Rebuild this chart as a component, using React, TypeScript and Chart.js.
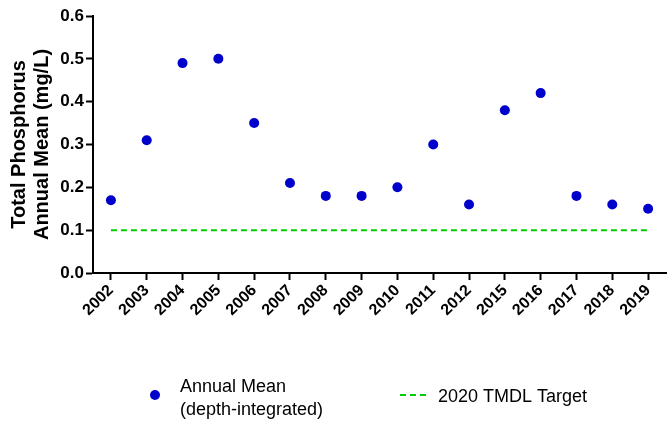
import React, { useEffect, useRef } from "react";
import { Chart, registerables } from "chart.js";

Chart.register(...registerables);

const years = ["2002", "2003", "2004", "2005", "2006", "2007", "2008", "2009", "2010", "2011", "2012", "2015", "2016", "2017", "2018", "2019"];
const annualMean = [0.17, 0.31, 0.49, 0.5, 0.35, 0.21, 0.18, 0.18, 0.2, 0.3, 0.16, 0.38, 0.42, 0.18, 0.16, 0.15];
const tmdlTarget = 0.1;
const yTitle = ["Total Phosphorus", "Annual Mean (mg/L)"];
const legendPoint = ["Annual Mean", "(depth-integrated)"];
const legendLine = "2020 TMDL Target";

const FONT = "'Liberation Sans', Arial, sans-serif";
const BLUE = "#0000cc";
const GREEN = "#00cc00";

const legendPlugin = {
  id: "customLegend",
  afterDraw(chart: any) {
    const ctx = chart.ctx;
    ctx.save();
    ctx.fillStyle = BLUE;
    ctx.beginPath();
    ctx.arc(155, 395, 5, 0, Math.PI * 2);
    ctx.fill();
    ctx.fillStyle = "#000";
    ctx.font = `18px ${FONT}`;
    ctx.textBaseline = "alphabetic";
    ctx.textAlign = "left";
    ctx.fillText(legendPoint[0], 180, 392);
    ctx.fillText(legendPoint[1], 180, 415);
    ctx.strokeStyle = GREEN;
    ctx.lineWidth = 2;
    ctx.setLineDash([6, 4]);
    ctx.beginPath();
    ctx.moveTo(400, 395);
    ctx.lineTo(426, 395);
    ctx.stroke();
    ctx.setLineDash([]);
    ctx.fillText(legendLine, 438, 402);
    ctx.restore();
  },
};

export default function App() {
  const ref = useRef<HTMLCanvasElement>(null);
  useEffect(() => {
    const chart = new Chart(ref.current!, {
      type: "line",
      data: {
        labels: years,
        datasets: [
          {
            label: legendPoint.join(" "),
            data: annualMean,
            showLine: false,
            pointRadius: 5,
            pointBackgroundColor: BLUE,
            pointBorderColor: BLUE,
            pointBorderWidth: 0,
            backgroundColor: BLUE,
            borderColor: BLUE,
          },
          {
            label: legendLine,
            data: years.map(() => tmdlTarget),
            borderColor: GREEN,
            borderWidth: 2,
            borderDash: [6, 4],
            pointRadius: 0,
            fill: false,
          },
        ],
      },
      options: {
        responsive: false,
        animation: false,
        layout: { padding: { top: 16, right: 6, left: 8, bottom: 0 } },
        plugins: { legend: { display: false }, tooltip: { enabled: false } },
        scales: {
          x: {
            type: "category",
            offset: true,
            grid: {
              display: true,
              drawOnChartArea: false,
              drawTicks: true,
              tickLength: 7,
              tickWidth: 2,
              tickColor: "#000",
              offset: false,
            },
            border: { display: true, color: "#000", width: 2 },
            ticks: {
              color: "#000",
              font: { family: FONT, size: 16, weight: "bold" },
              minRotation: 45,
              maxRotation: 45,
              padding: 1,
              autoSkip: false,
            },
            afterFit(scale: any) {
              scale.height = 157;
            },
          },
          y: {
            min: 0,
            max: 0.6,
            ticks: {
              stepSize: 0.1,
              color: "#000",
              font: { family: FONT, size: 17, weight: "bold" },
              padding: 2,
              callback: (v: any) => Number(v).toFixed(1),
            },
            grid: {
              display: true,
              drawOnChartArea: false,
              drawTicks: true,
              tickLength: 7,
              tickWidth: 2,
              tickColor: "#000",
            },
            border: { display: true, color: "#000", width: 2 },
            title: {
              display: true,
              text: yTitle,
              color: "#000",
              font: { family: FONT, size: 20, weight: "bold", lineHeight: 1.15 },
              padding: { top: 0, bottom: 0 },
            },
            afterFit(scale: any) {
              scale.width = 85;
            },
          },
        },
      },
      plugins: [legendPlugin],
    } as any);
    return () => chart.destroy();
  }, []);
  return (
    <div style={{ position: "fixed", left: 0, top: 0, width: 672, height: 430, background: "#fff" }}>
      <canvas ref={ref} width={672} height={430} style={{ width: 672, height: 430, display: "block" }} />
    </div>
  );
}
